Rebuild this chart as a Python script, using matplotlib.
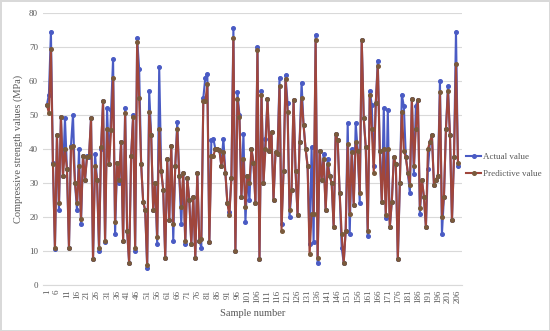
import numpy as np
import matplotlib
matplotlib.use("Agg")
import matplotlib.pyplot as plt

####### actual compressive strength (MPa), samples 1-206
actual = [53, 56, 74.5, 36, 10.5, 44, 22, 49.5, 32, 49, 34, 11, 41, 50, 30, 22, 40, 18, 38, 31,
          38, 37.5, 49, 7.5, 38.5, 31, 10, 40, 54, 12.5, 52, 35.5, 51.5, 66.5, 15, 36, 30, 42, 13, 52,
          16, 6.5, 38, 50, 10, 72.5, 63.5, 35.5, 24.5, 22, 5, 57, 44, 22, 30, 12, 64, 33.5, 28, 8,
          37, 19, 41, 13, 35, 48, 32, 18, 33, 12, 31.5, 25, 12, 26, 8, 33, 13, 11, 55, 61,
          62, 12.5, 42.5,
          43, 40, 40, 39.8, 35, 43, 33, 24, 21.5, 31.5, 75.6, 10, 56.8, 50, 26, 44.5, 18.5, 32, 25, 40,
          36, 24, 70, 7.5, 57, 30, 43, 54.6, 39.5, 45, 25, 39, 38.5, 61, 18, 33.5, 61.6, 53.5, 20, 28,
          54.5, 33.5, 20.5, 42, 59.5, 47, 40, 35, 12, 40.5, 12.5, 73.5, 6.5, 39.5, 31, 38.5, 22, 37, 32, 30,
          17, 44.5, 42.5, 27, 11, 6.5, 16, 47.5, 15, 40, 23.5, 47.5, 39.5, 24, 72, 49, 40.5, 14.5, 57, 53,
          35, 53.5, 66, 39.5, 24.5, 52, 19.8, 51.5, 17, 24.5, 37.5, 35.5, 7.5, 30, 56, 52.5, 37.5, 33, 27, 54.6,
          32.5, 52.5, 54.5, 21, 31, 26, 17, 34, 42, 44, 29.5, 31, 32, 60, 15, 26, 46, 58.5, 44, 19,
          37.5, 74.5, 35]

####### predicted compressive strength (MPa)
predicted = [53, 50.5, 69.5, 35.5, 11, 44, 24, 49.5, 32, 40, 34, 11, 40.5, 41, 30, 24, 35, 19.5, 38, 31,
             37.5, 38, 49, 7.5, 35, 31, 11, 40.5, 54, 13, 46, 35.5, 45.5, 61, 18.5, 36, 31, 42, 13, 50.5,
             16, 6.5, 38, 49.5, 11, 71.5, 55, 35.5, 24.5, 22, 6, 51, 44, 22, 30, 14, 46, 33.5, 28, 8,
             37, 19, 41, 18, 35, 46, 32, 23, 33, 13, 31.5, 25, 12, 26, 8, 33, 13, 13.5, 54, 54,
             59, 12.5, 38,
             38, 40, 40, 39.8, 35, 39, 33, 24, 20.5, 31.5, 72.7, 10, 54.6, 49.5, 26, 37, 23, 32, 30, 40,
             36, 24, 69, 7.5, 55.8, 30, 40, 54.6, 39.5, 45, 25, 39, 38.5, 58.5, 16, 33.5, 60.6, 51, 22, 28,
             54.5, 33.5, 20.5, 42, 55, 47, 40, 35, 9, 21, 21, 72, 8, 39.5, 31, 37, 22, 35.5, 32, 30,
             17, 44.5, 42.5, 27, 15, 6.5, 16, 41.5, 21, 39, 23.5, 42, 39.5, 27, 72, 49, 40.5, 16, 55.8, 46,
             33, 53.5, 64.5, 39.5, 24.5, 40, 20.5, 40, 17, 24.5, 37.5, 35.5, 7.5, 30, 51, 39.5, 37.5, 33, 29.5, 54.6,
             35, 46, 54.5, 22.5, 31, 26, 17, 40, 42, 44, 29.5, 31, 32, 56.8, 20, 26, 46, 57, 44, 19,
             37.5, 65, 36]

samples = np.arange(1, len(actual) + 1)
tick_pos = np.arange(1, 207, 5)

plt.rcParams['font.family'] = ['Liberation Serif', 'DejaVu Serif']
grey = '#595959'

fig = plt.figure(figsize=(5.5, 3.31), dpi=100)
fig.patch.set_edgecolor('#D9D9D9')
fig.patch.set_linewidth(1)
ax = fig.add_axes([0.078, 0.139, 0.762, 0.822])

ax.plot(samples, actual, color='#4A5BC4', lw=1.5, marker='o', ms=2.6, label='Actual value')
ax.plot(np.arange(1, len(predicted) + 1), predicted, color='#A0463C', lw=1.5, marker='o', ms=2.6,
        mfc='#7A5A3C', mec='#7A5A3C', label='Predictive value')

ax.set_xlim(-1, 208)
ax.set_ylim(0, 80)
ax.set_yticks(np.arange(0, 81, 10))
ax.set_xticks(tick_pos)
ax.set_xticklabels([str(t) for t in tick_pos], rotation=90)
ax.tick_params(axis='both', labelsize=6.5, colors=grey, length=0)
ax.yaxis.grid(True, color='#D9D9D9', lw=0.8)
ax.set_axisbelow(True)
for s in ['top', 'right', 'left']:
    ax.spines[s].set_visible(False)
ax.spines['bottom'].set_color('#D9D9D9')

ax.set_xlabel('Sample number', fontsize=7.5, color=grey)
ax.set_ylabel('Compressive strength values (MPa)', fontsize=7.5, color=grey)

fig.legend(loc='center left', bbox_to_anchor=(0.848, 0.5), frameon=False, fontsize=6.5,
           labelcolor=grey, handlelength=1.6, handletextpad=0.2, labelspacing=0.9,
           borderaxespad=0, borderpad=0)

fig.savefig('out.png', dpi=100)
